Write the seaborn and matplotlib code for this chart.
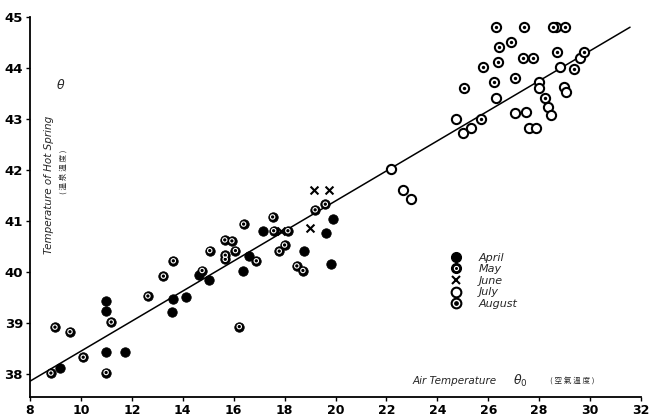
import numpy as np
import pandas as pd
import matplotlib
matplotlib.use("Agg")
import matplotlib.pyplot as plt
import seaborn as sns
from matplotlib.lines import Line2D
from matplotlib.legend_handler import HandlerTuple

# ---------------- data ----------------
april_x = [9.18, 10.99, 11.74, 10.99, 10.99, 13.61, 13.58, 14.13, 14.65, 15.02,
           16.37, 16.59, 17.15, 18.78, 19.92, 19.62, 19.83]
april_y = [38.12, 38.43, 38.43, 39.43, 39.23, 39.48, 39.22, 39.52, 39.94, 39.84,
           40.03, 40.31, 40.81, 40.41, 41.03, 40.77, 40.16]

may_x = [8.82, 8.98, 9.57, 10.09, 10.99, 11.19, 12.63, 13.24, 13.63, 14.76,
         15.06, 15.65, 15.93, 15.67, 15.67, 16.07, 16.39, 16.89, 16.22, 17.53,
         17.57, 18.13, 18.00, 17.79, 18.48, 18.72, 19.20, 19.60]
may_y = [38.02, 38.92, 38.83, 38.33, 38.03, 39.02, 39.53, 39.92, 40.22, 40.03,
         40.42, 40.63, 40.61, 40.33, 40.25, 40.42, 40.94, 40.22, 38.93, 41.08,
         40.81, 40.81, 40.53, 40.41, 40.12, 40.03, 41.22, 41.33]

june_x = [17.87, 18.98, 19.14, 19.73]
june_y = [40.81, 40.86, 41.61, 41.61]

july_x = [22.17, 22.67, 22.97, 24.72, 25.02, 25.31, 26.29, 27.05, 28.67, 28.81,
          27.99, 27.99, 28.98, 29.07, 28.33, 28.48, 27.50, 27.61, 27.89, 29.59]
july_y = [42.02, 41.61, 41.43, 43.01, 42.72, 42.82, 43.41, 43.11, 44.81, 44.01,
          43.73, 43.61, 43.63, 43.52, 43.23, 43.08, 43.13, 42.82, 42.82, 44.19]

august_x = [25.71, 25.05, 26.21, 25.80, 26.39, 26.42, 26.91, 26.29, 27.05, 27.41,
            28.55, 29.00, 27.37, 27.76, 28.72, 29.76, 29.37, 28.22]
august_y = [43.01, 43.61, 43.73, 44.01, 44.11, 44.42, 44.51, 44.81, 43.81, 44.81,
            44.81, 44.81, 44.20, 44.20, 44.32, 44.31, 43.99, 43.42]

line_x = [8.0, 31.57]
line_y = [37.86, 44.80]

x_ticks = [8, 10, 12, 14, 16, 18, 20, 22, 24, 26, 28, 30, 32]
y_ticks = [38, 39, 40, 41, 42, 43, 44, 45]
months = ["April", "May", "June", "July", "August"]

# ---------------- figure ----------------
sns.set_theme(style="white")
plt.rcParams["font.family"] = ["DejaVu Sans", "Noto Sans CJK JP"]

fig = plt.figure(figsize=(6.49, 4.20), dpi=100)
ax = fig.add_axes([30 / 649, 1 - 397 / 420, (641 - 30) / 649, (397 - 17) / 420])

frames = [
    pd.DataFrame({"air": april_x, "spring": april_y, "month": "April"}),
    pd.DataFrame({"air": may_x, "spring": may_y, "month": "May"}),
    pd.DataFrame({"air": june_x, "spring": june_y, "month": "June"}),
    pd.DataFrame({"air": july_x, "spring": july_y, "month": "July"}),
    pd.DataFrame({"air": august_x, "spring": august_y, "month": "August"}),
]
df = pd.concat(frames, ignore_index=True)

# regression line
sns.lineplot(x=line_x, y=line_y, color="black", linewidth=1.1, ax=ax, zorder=1)

d = df[df.month == "April"]
sns.scatterplot(data=d, x="air", y="spring", color="black", edgecolor="black",
                s=46, linewidth=0.6, ax=ax, zorder=3, legend=False)
d = df[df.month == "May"]
sns.scatterplot(data=d, x="air", y="spring", color="black", edgecolor="black",
                s=46, linewidth=0.6, ax=ax, zorder=3, legend=False)
ax.scatter(d.air, d.spring, facecolors="none", edgecolors="white", s=10,
           linewidths=0.8, zorder=4)
d = df[df.month == "June"]
sns.scatterplot(data=d, x="air", y="spring", color="black", marker="x",
                s=32, linewidth=1.5, ax=ax, zorder=3, legend=False)
d = df[df.month == "July"]
sns.scatterplot(data=d, x="air", y="spring", color="white", edgecolor="black",
                s=44, linewidth=1.5, ax=ax, zorder=3, legend=False)
d = df[df.month == "August"]
sns.scatterplot(data=d, x="air", y="spring", color="white", edgecolor="black",
                s=44, linewidth=1.5, ax=ax, zorder=3, legend=False)
ax.scatter(d.air, d.spring, color="black", s=6, linewidths=0, zorder=4)

ax.set_xlim(8, 32)
ax.set_ylim(37.55, 45)
ax.set_xticks(x_ticks)
ax.set_yticks(y_ticks)
ax.set_xticklabels([str(t) for t in x_ticks], fontsize=9, fontweight="bold")
ax.set_yticklabels([str(t) for t in y_ticks], fontsize=9.5, fontweight="bold")
ax.set_xlabel("")
ax.set_ylabel("")
for s in ["top", "right"]:
    ax.spines[s].set_visible(False)
for s in ["left", "bottom"]:
    ax.spines[s].set_color("black")
    ax.spines[s].set_linewidth(1.3)
ax.tick_params(axis="both", which="both", direction="out", length=3, width=1,
               color="black", labelcolor="black", pad=2, left=True, bottom=True)

# axis titles drawn inside the plotting area
ax.text(8.75, 41.7, "Temperature of Hot Spring", rotation=90, ha="center",
        va="center", fontsize=7.5, style="italic")
ax.text(9.37, 41.96, "( 溫 泉 溫 度 )", rotation=90, ha="center", va="center",
        fontsize=5.5, family=["Noto Sans CJK JP", "DejaVu Sans"])
ax.text(9.22, 43.65, "θ", ha="center", va="center", fontsize=9, style="italic")
ax.text(24.67, 37.86, "Air Temperature", ha="center", va="center",
        fontsize=7.5, style="italic")
ax.text(27.25, 37.87, "θ$_0$", ha="center", va="center", fontsize=9, style="italic")
ax.text(29.3, 37.87, "( 空 氣 溫 度 )", ha="center", va="center", fontsize=5.5,
        family=["Noto Sans CJK JP", "DejaVu Sans"])

# legend
h_april = Line2D([], [], marker="o", ls="", color="black", markersize=7)
h_may = (Line2D([], [], marker="o", ls="", color="black", markersize=7),
         Line2D([], [], marker="o", ls="", mfc="none", mec="white", mew=0.8,
                markersize=3))
h_june = Line2D([], [], marker="x", ls="", color="black", markersize=5.5, mew=1.5)
h_july = Line2D([], [], marker="o", ls="", mfc="white", mec="black", mew=1.5,
                markersize=7)
h_aug = (Line2D([], [], marker="o", ls="", mfc="white", mec="black", mew=1.5,
                markersize=7),
         Line2D([], [], marker="o", ls="", color="black", markersize=2.4))
leg = ax.legend([h_april, h_may, h_june, h_july, h_aug], months,
                handler_map={tuple: HandlerTuple(ndivide=1, pad=0)},
                loc="upper left", bbox_to_anchor=(0.674, 0.40), frameon=False,
                prop={"style": "italic", "size": 8}, labelspacing=0.14,
                handlelength=1.2, handletextpad=1.4, borderpad=0.2)

fig.savefig("out.png", dpi=100, facecolor="white")
